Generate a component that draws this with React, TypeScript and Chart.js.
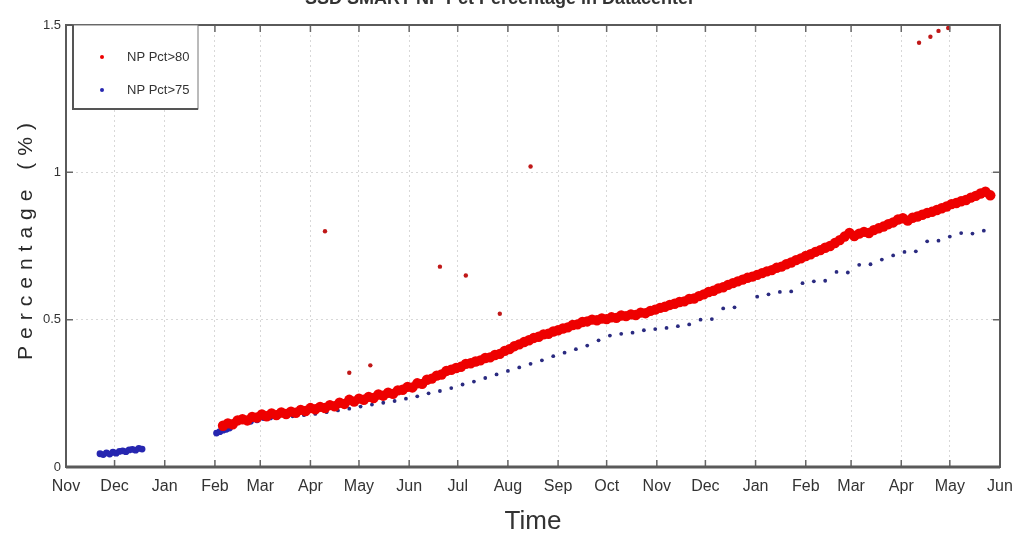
import React, { useEffect, useRef } from 'react';
import { Chart, registerables } from 'chart.js';

Chart.register(...registerables);

const chartTitle = 'SSD SMART NP Pct Percentage in Datacenter';
const xAxisTitle = 'Time';
const yAxisTitle = 'Percentage (%)';
const seriesLabels = ['NP Pct>80', 'NP Pct>75'];
const monthLabels = ['Nov', 'Dec', 'Jan', 'Feb', 'Mar', 'Apr', 'May', 'Jun', 'Jul', 'Aug', 'Sep', 'Oct', 'Nov', 'Dec', 'Jan', 'Feb', 'Mar', 'Apr', 'May', 'Jun'];
const startYear = 2013;
const startMonth = 10; // November, 0-based
const yTicks = [0, 0.5, 1, 1.5];

// NP Pct>80: one reading every 3 days, starting at day 97 after 1 Nov 2013
const redStartDay = 97;
const redStepDays = 3;
const redValues = [
  0.140, 0.148, 0.145, 0.158, 0.162, 0.158, 0.170, 0.168,
  0.178, 0.172, 0.182, 0.176, 0.185, 0.180, 0.188, 0.184, 0.194,
  0.190, 0.200, 0.196, 0.204, 0.200, 0.210, 0.206, 0.218, 0.214, 0.228,
  0.222, 0.232, 0.228, 0.238, 0.234, 0.246, 0.242, 0.252, 0.248, 0.260,
  0.262, 0.272, 0.270, 0.284, 0.282, 0.296, 0.300, 0.310, 0.314, 0.326,
  0.330, 0.336, 0.340, 0.350, 0.352, 0.358, 0.362, 0.370, 0.372, 0.380,
  0.384, 0.394, 0.400, 0.410, 0.416, 0.424, 0.430, 0.438, 0.442, 0.450,
  0.452, 0.460, 0.464, 0.470, 0.474, 0.482, 0.484, 0.492, 0.494, 0.500,
  0.498, 0.504, 0.502, 0.508, 0.506, 0.514, 0.512, 0.518, 0.516, 0.524,
  0.522, 0.530, 0.534, 0.540, 0.544, 0.550, 0.554, 0.560, 0.562, 0.570,
  0.572, 0.580, 0.586, 0.594, 0.598, 0.606, 0.610, 0.618, 0.624, 0.630,
  0.636, 0.642, 0.646, 0.652, 0.658, 0.664, 0.668, 0.676, 0.680, 0.688,
  0.694, 0.702, 0.708, 0.716, 0.722, 0.730, 0.736, 0.744, 0.750, 0.760,
  0.770, 0.782, 0.794, 0.784, 0.792, 0.798, 0.794, 0.804, 0.810, 0.816,
  0.824, 0.830, 0.840, 0.844, 0.836, 0.846, 0.850, 0.856, 0.862, 0.866,
  0.872, 0.878, 0.884, 0.892, 0.896, 0.902, 0.906, 0.914, 0.920, 0.928,
  0.934, 0.922,
];
const redOutlierDays = [160, 175, 188, 231, 247, 268, 287, 527, 534, 539, 545];
const redOutlierValues = [0.80, 0.32, 0.345, 0.68, 0.65, 0.52, 1.02, 1.44, 1.46, 1.48, 1.49];

// NP Pct>75
const blueDays = [
  21, 23, 25, 27, 29, 31, 33, 35, 37, 39, 41, 43, 45, 47,
  93, 95, 97, 99, 101,
  114, 116, 118, 120, 122, 124, 126, 128, 130,
  140, 147, 154, 161, 168, 175, 182, 189, 196, 203, 210, 217, 224, 231, 238, 245, 252, 259, 266, 273,
  280, 287, 294, 301, 308, 315, 322, 329, 336, 343, 350, 357, 364, 371, 378, 385, 392, 399, 406, 413,
  427, 434, 441, 448, 455, 462, 469, 476, 483, 490, 497, 504, 511, 518, 525, 532, 539, 546, 553, 560, 567,
];
const blueValues = [
  0.045, 0.042, 0.048, 0.044, 0.050, 0.047, 0.053, 0.055, 0.052, 0.058, 0.060, 0.057, 0.063, 0.061,
  0.115, 0.120, 0.125, 0.128, 0.132,
  0.155, 0.165, 0.160, 0.172, 0.168, 0.175, 0.170, 0.178, 0.174,
  0.172, 0.176, 0.180, 0.186, 0.192, 0.198, 0.205, 0.212, 0.218, 0.224, 0.232, 0.240, 0.250, 0.258, 0.268, 0.280, 0.290, 0.302, 0.314, 0.326,
  0.338, 0.350, 0.362, 0.376, 0.388, 0.400, 0.412, 0.430, 0.446, 0.452, 0.456, 0.464, 0.468, 0.472, 0.478, 0.484, 0.500, 0.502, 0.538, 0.542,
  0.578, 0.586, 0.594, 0.596, 0.624, 0.630, 0.632, 0.662, 0.660, 0.686, 0.688, 0.704, 0.718, 0.730, 0.732, 0.766, 0.768, 0.782, 0.794, 0.792, 0.802,
];

const RED = '#ee0000';
const BLUE = '#2626b0';
const NARROW = "'Liberation Sans Narrow', 'Liberation Sans', Arial, sans-serif";
const SANS = "'Liberation Sans', Arial, sans-serif";

const DAY_MS = 86400000;
const t0 = Date.UTC(startYear, startMonth, 1);
const monthTickDays = monthLabels.map((_, i) => Math.round((Date.UTC(startYear, startMonth + i, 1) - t0) / DAY_MS));

const framePlugin = {
  id: 'matlabFrame',
  afterDraw(chart: any) {
    const { ctx, chartArea } = chart;
    const { left, right, top, bottom } = chartArea;
    const xs = chart.scales.x;
    const ys = chart.scales.y;
    ctx.save();
    // inward ticks
    ctx.strokeStyle = '#666';
    ctx.lineWidth = 1.5;
    ctx.beginPath();
    monthTickDays.forEach((d, i) => {
      if (i === 0 || i === monthTickDays.length - 1) return;
      const px = xs.getPixelForValue(d);
      ctx.moveTo(px, bottom);
      ctx.lineTo(px, bottom - 7);
      ctx.moveTo(px, top);
      ctx.lineTo(px, top + 7);
    });
    yTicks.forEach((v, i) => {
      if (i === 0 || i === yTicks.length - 1) return;
      const py = ys.getPixelForValue(v);
      ctx.moveTo(left, py);
      ctx.lineTo(left + 7, py);
      ctx.moveTo(right, py);
      ctx.lineTo(right - 7, py);
    });
    ctx.stroke();
    // frame
    ctx.strokeStyle = '#5a5a5a';
    ctx.lineWidth = 2;
    ctx.strokeRect(left, top, right - left, bottom - top);
    ctx.lineWidth = 3;
    ctx.beginPath();
    ctx.moveTo(left, bottom);
    ctx.lineTo(right, bottom);
    ctx.stroke();

    // legend box
    const lx = left + 7;
    const ly = top;
    const lw = 125;
    const lh = 84;
    ctx.fillStyle = '#ffffff';
    ctx.fillRect(lx, ly, lw, lh);
    ctx.strokeStyle = '#777';
    ctx.lineWidth = 1;
    ctx.strokeRect(lx, ly, lw, lh);
    ctx.strokeStyle = '#555';
    ctx.lineWidth = 2;
    ctx.beginPath();
    ctx.moveTo(lx, ly);
    ctx.lineTo(lx, ly + lh);
    ctx.lineTo(lx + lw, ly + lh);
    ctx.stroke();
    const colors = [RED, BLUE];
    const rows = [ly + 32, ly + 65];
    ctx.font = `13px ${NARROW}`;
    ctx.textBaseline = 'middle';
    ctx.textAlign = 'left';
    seriesLabels.forEach((lab, i) => {
      ctx.fillStyle = colors[i];
      ctx.beginPath();
      ctx.arc(lx + 29, rows[i], 2, 0, Math.PI * 2);
      ctx.fill();
      ctx.fillStyle = '#333';
      ctx.fillText(lab, lx + 54, rows[i]);
    });

    // y axis title with letter spacing
    ctx.translate(26, 241);
    ctx.rotate(-Math.PI / 2);
    ctx.font = `21px ${SANS}`;
    (ctx as any).letterSpacing = '7px';
    ctx.fillStyle = '#2a2a2a';
    ctx.textAlign = 'center';
    ctx.textBaseline = 'middle';
    ctx.fillText(yAxisTitle, 3, 0);
    ctx.restore();
  },
};

export default function App() {
  const canvasRef = useRef<HTMLCanvasElement | null>(null);

  useEffect(() => {
    const canvas = canvasRef.current;
    if (!canvas) return;
    const redData = redValues
      .map((v, i) => ({ x: redStartDay + i * redStepDays, y: v }))
      .concat(redOutlierDays.map((d, i) => ({ x: d, y: redOutlierValues[i] })));
    const blueData = blueDays.map((d, i) => ({ x: d, y: blueValues[i] }));
    const nRed = redValues.length;

    const chart = new Chart(canvas, {
      type: 'scatter',
      data: {
        datasets: [
          {
            label: seriesLabels[0],
            data: redData,
            backgroundColor: (c: any) => (c.dataIndex >= nRed ? '#c01818' : RED),
            borderWidth: 0,
            pointRadius: (c: any) => (c.dataIndex >= nRed ? 2.2 : 5.2),
            pointStyle: 'circle',
          },
          {
            label: seriesLabels[1],
            data: blueData,
            backgroundColor: (c: any) => (c.dataIndex < 28 ? BLUE : '#2a2a80'),
            borderWidth: 0,
            pointRadius: (c: any) => (c.dataIndex < 28 ? 3.4 : 1.9),
            pointStyle: 'circle',
          },
        ],
      },
      options: {
        animation: false,
        responsive: false,
        maintainAspectRatio: false,
        layout: { padding: { left: 0, right: 14, top: 0, bottom: 0 } },
        plugins: {
          legend: { display: false },
          tooltip: { enabled: false },
          title: {
            display: true,
            text: chartTitle,
            color: '#333',
            font: { family: SANS, size: 18, weight: 'bold', lineHeight: 1 },
            padding: { top: -10, bottom: 17 },
          },
        },
        scales: {
          x: {
            type: 'linear',
            min: 0,
            max: monthTickDays[monthTickDays.length - 1],
            afterBuildTicks: (s: any) => {
              s.ticks = monthTickDays.map((d) => ({ value: d }));
            },
            afterFit: (s: any) => {
              s.height = 74;
              s.paddingLeft = 0;
              s.paddingRight = 0;
            },
            ticks: {
              autoSkip: false,
              maxRotation: 0,
              padding: 10,
              color: '#333',
              font: { family: NARROW, size: 16 },
              callback: (v: any) => {
                const idx = monthTickDays.indexOf(Number(v));
                return idx >= 0 ? monthLabels[idx] : '';
              },
            },
            grid: { color: '#d8d8d8', lineWidth: 1, drawTicks: false },
            border: { display: false, dash: [2, 3] },
            title: {
              display: true,
              text: xAxisTitle,
              color: '#333',
              font: { family: NARROW, size: 26, lineHeight: 1 },
              padding: { top: 0, bottom: 6 },
            },
          },
          y: {
            type: 'linear',
            min: 0,
            max: 1.5,
            afterBuildTicks: (s: any) => {
              s.ticks = yTicks.map((v) => ({ value: v }));
            },
            afterFit: (s: any) => {
              s.width = 66;
            },
            ticks: {
              padding: 5,
              color: '#333',
              font: { family: NARROW, size: 13 },
              callback: (v: any) => String(v),
            },
            grid: { color: '#d8d8d8', lineWidth: 1, drawTicks: false },
            border: { display: false, dash: [2, 3] },
            title: { display: false },
          },
        },
      },
      plugins: [framePlugin],
    } as any);

    return () => chart.destroy();
  }, []);

  return (
    <div style={{ position: 'fixed', left: 0, top: 0, width: 1014, height: 541, background: '#fff' }}>
      <canvas ref={canvasRef} width={1014} height={541} style={{ display: 'block', width: 1014, height: 541 }} />
    </div>
  );
}
